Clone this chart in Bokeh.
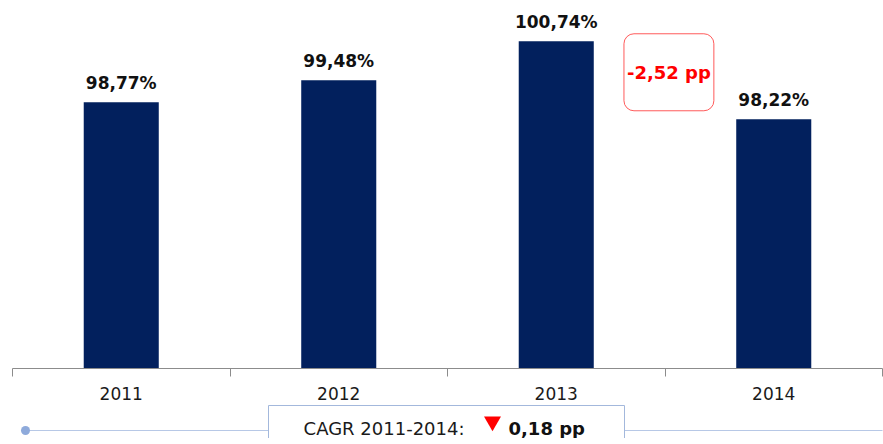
from bokeh.plotting import figure
from bokeh.models import ColumnDataSource, Range1d, FixedTicker, Label
from bokeh.layouts import column
from bokeh.core.properties import value
from bokeh.embed import file_html
from bokeh.resources import INLINE

# ---- data ----
years = ["2011", "2012", "2013", "2014"]
values = [98.77, 99.48, 100.74, 98.22]
value_labels = ["98,77%", "99,48%", "100,74%", "98,22%"]
change_label = "-2,52 pp"
cagr_text = "CAGR 2011-2014:"
cagr_value = "0,18 pp"

NAVY = "#02205d"
FONT = "DejaVu Sans"

centers = [i + 0.5 for i in range(len(years))]
bounds = [float(i) for i in range(len(years) + 1)]
y0, y1 = 90.17, 101.80

src = ColumnDataSource(dict(x=centers, v=values, lab=value_labels))

p = figure(frame_width=870, frame_height=360,
           x_range=Range1d(0, len(years)), y_range=Range1d(y0, y1),
           output_backend="svg", toolbar_location=None,
           min_border_left=12, min_border_right=1, min_border_top=8, min_border_bottom=0)
p.outline_line_color = None
p.grid.visible = False
p.yaxis.visible = False
p.background_fill_color = "white"

p.vbar(x="x", top="v", bottom=y0, width=0.345, fill_color=NAVY, line_color=None, source=src)
p.text(x="x", y="v", text="lab", source=src, text_align="center", text_baseline="alphabetic",
       y_offset=-19, text_font=value(FONT), text_font_style="bold", text_font_size="17px",
       text_color="#111111")

ax = p.xaxis[0]
ax.ticker = FixedTicker(ticks=centers, minor_ticks=bounds)
ax.major_label_overrides = {c: y for c, y in zip(centers, years)}
ax.major_tick_line_color = None
ax.major_tick_in = 0
ax.major_tick_out = 0
ax.minor_tick_in = 0
ax.minor_tick_out = 8
ax.minor_tick_line_color = "#8c8c8c"
ax.axis_line_color = "#8c8c8c"
ax.major_label_text_font = FONT
ax.major_label_text_font_size = "17px"
ax.major_label_text_color = "#1a1a1a"
ax.major_label_standoff = 10

# change annotation between 2013 and 2014
lbl = Label(x=3.018, y=99.74, text=change_label, text_align="center",
            text_baseline="middle", text_color="#ff0000", text_font=FONT,
            text_font_style="bold", text_font_size="18px",
            border_line_color="#ff5a5a", border_line_width=1, border_radius=10,
            background_fill_color="white", padding=(3, 28))
p.add_layout(lbl)

# ---- bottom strip (x in page pixels) ----
p2 = figure(frame_width=870, frame_height=36, x_range=Range1d(12, 882), y_range=Range1d(36, 0),
            output_backend="svg", toolbar_location=None,
            min_border_left=12, min_border_right=1, min_border_top=0, min_border_bottom=0)
p2.axis.visible = False
p2.grid.visible = False
p2.outline_line_color = None

p2.line(x=[25, 883], y=[28, 28], line_color="#b7c8e6", line_width=1)
p2.scatter(x=[25], y=[28], size=9, fill_color="#8eaadb", line_color=None)
p2.quad(left=268, right=624, top=3, bottom=50, fill_color="white", line_color="#a3b8dc", line_width=1)
p2.text(x=[464], y=[26], text=[cagr_text], text_align="right", text_baseline="alphabetic",
        text_font=value(FONT), text_font_size="18px", text_color="#1a1a1a")
p2.scatter(x=[492], y=[19], size=17, marker="inverted_triangle", fill_color="#ff0000", line_color=None)
p2.text(x=[508], y=[26], text=[cagr_value], text_align="left", text_baseline="alphabetic",
        text_font=value(FONT), text_font_style="bold", text_font_size="18px", text_color="#111111")

layout = column(p, p2, spacing=0)
open("out.html", "w").write(file_html(layout, INLINE))
